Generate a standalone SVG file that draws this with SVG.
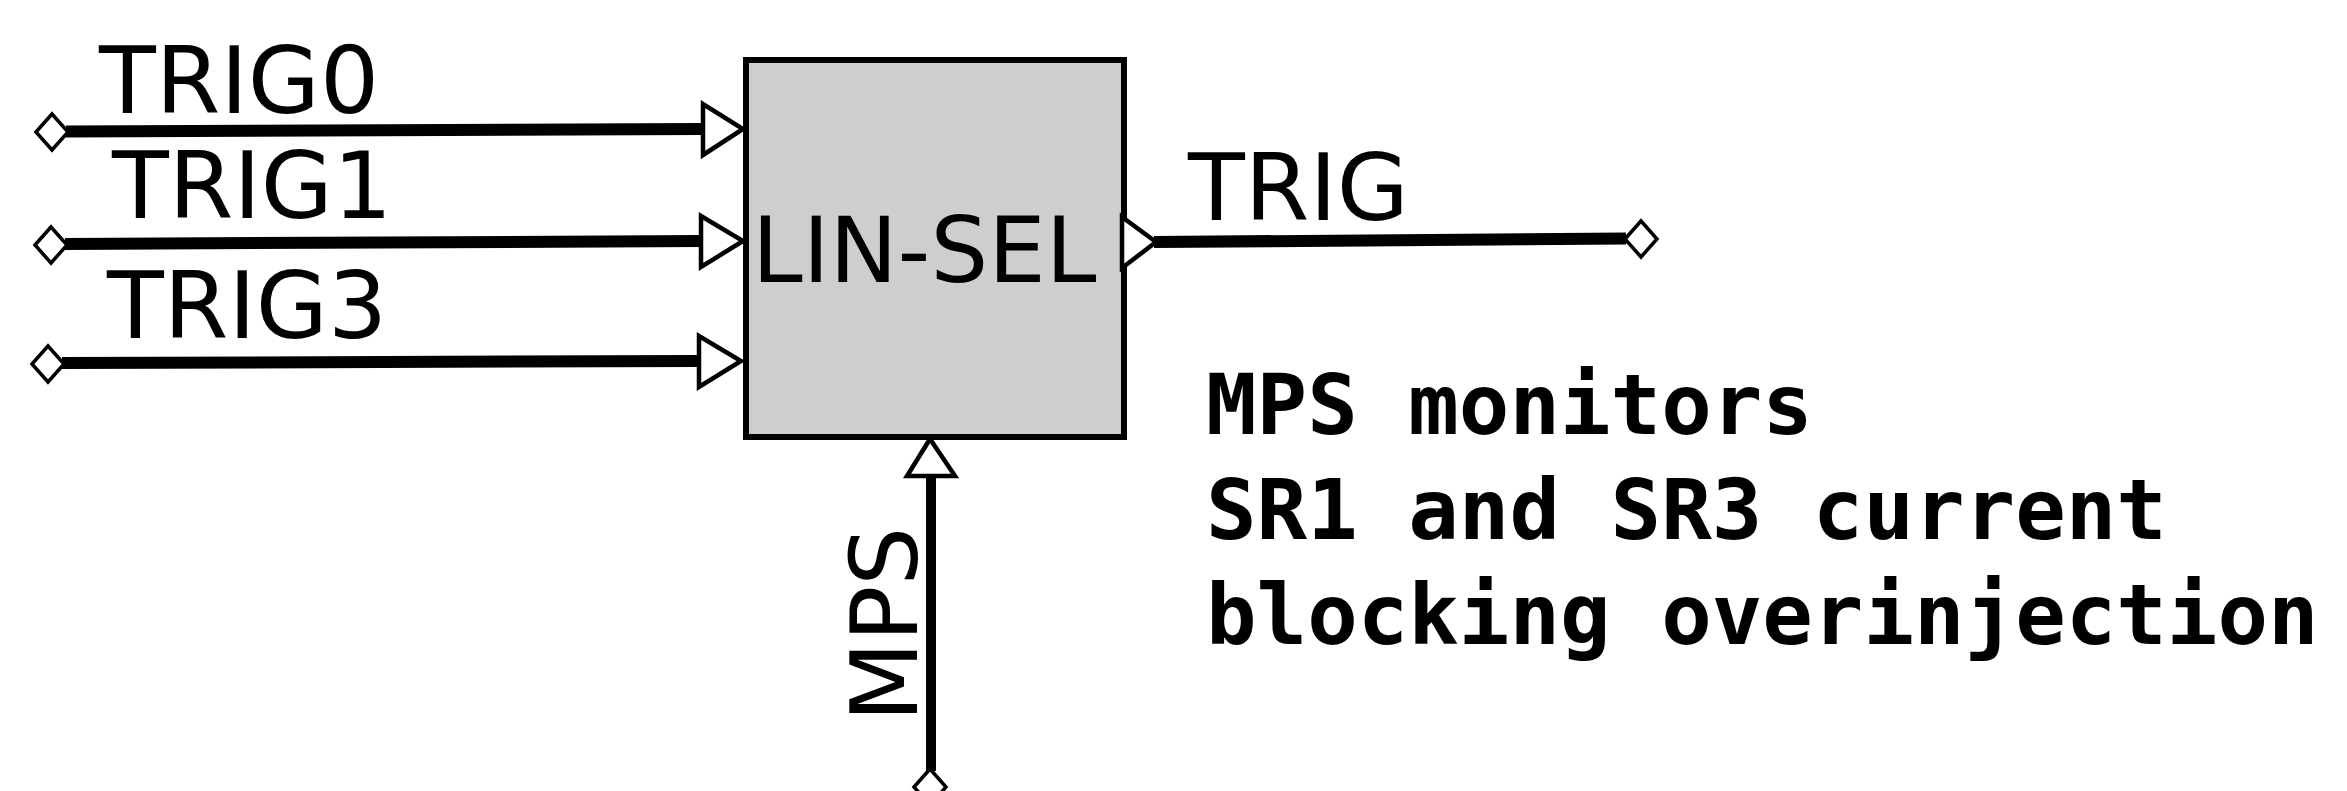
<svg xmlns="http://www.w3.org/2000/svg" width="2347" height="791" viewBox="0 0 2347 791">
<style>
.wire{stroke:#000;stroke-width:12;fill:none;stroke-linecap:butt}
.vwire{stroke:#000;stroke-width:10;fill:none}
.arrow{fill:#fff;stroke:#000;stroke-width:4.5;stroke-linejoin:miter}
.pin{fill:#fff;stroke:#000;stroke-width:3.5}
.lbl{font-family:"DejaVu Sans",sans-serif;font-size:93px;fill:#000}
.note{font-family:"DejaVu Sans Mono",monospace;font-weight:bold;font-size:84px;fill:#000}
</style>
<rect width="2347" height="791" fill="#fff"/>
<g id="lin-sel">
<rect x="746" y="60" width="378" height="377" fill="#cecece" stroke="#000" stroke-width="6"/>
<text class="lbl" x="752" y="282" style="font-size:91px">LIN-SEL</text>
</g>
<g id="connectors">
<line class="wire" x1="66" y1="131.5" x2="704" y2="129"/>
<line class="wire" x1="65" y1="244" x2="702" y2="241"/>
<line class="wire" x1="62" y1="363" x2="699" y2="361"/>
<line class="wire" x1="1154" y1="242" x2="1626" y2="238.5"/>
<line class="vwire" x1="931" y1="474" x2="931" y2="771"/>
<polygon class="arrow" points="703,104 703,155 743,129"/>
<polygon class="arrow" points="701,216 701,267 743,241"/>
<polygon class="arrow" points="699,336 699,387 741,361"/>
<polygon class="arrow" points="1122,217 1122,268 1156,242"/>
<polygon class="arrow" points="907,476 955,476 930,439"/>
<polygon class="pin" points="36,132 52,114 68,132 52,150"/>
<polygon class="pin" points="35,245 51,227 67,245 51,263"/>
<polygon class="pin" points="32,364 48,346 64,364 48,382"/>
<polygon class="pin" points="1625,239 1641,221 1657,239 1641,257"/>
<polygon class="pin" points="914,787 930,769 946,787 930,805"/>
</g>
<g id="labels">
<text class="lbl" x="99" y="113">TRIG0</text>
<text class="lbl" x="112" y="218">TRIG1</text>
<text class="lbl" x="107" y="338">TRIG3</text>
<text class="lbl" x="1188" y="220">TRIG</text>
<text class="lbl" transform="translate(917,722) rotate(-90)">MPS</text>
</g>
<g id="note">
<text class="note" x="1206" y="434">MPS monitors</text>
<text class="note" x="1206" y="539">SR1 and SR3 current</text>
<text class="note" x="1206" y="644">blocking overinjection</text>
</g>
</svg>
